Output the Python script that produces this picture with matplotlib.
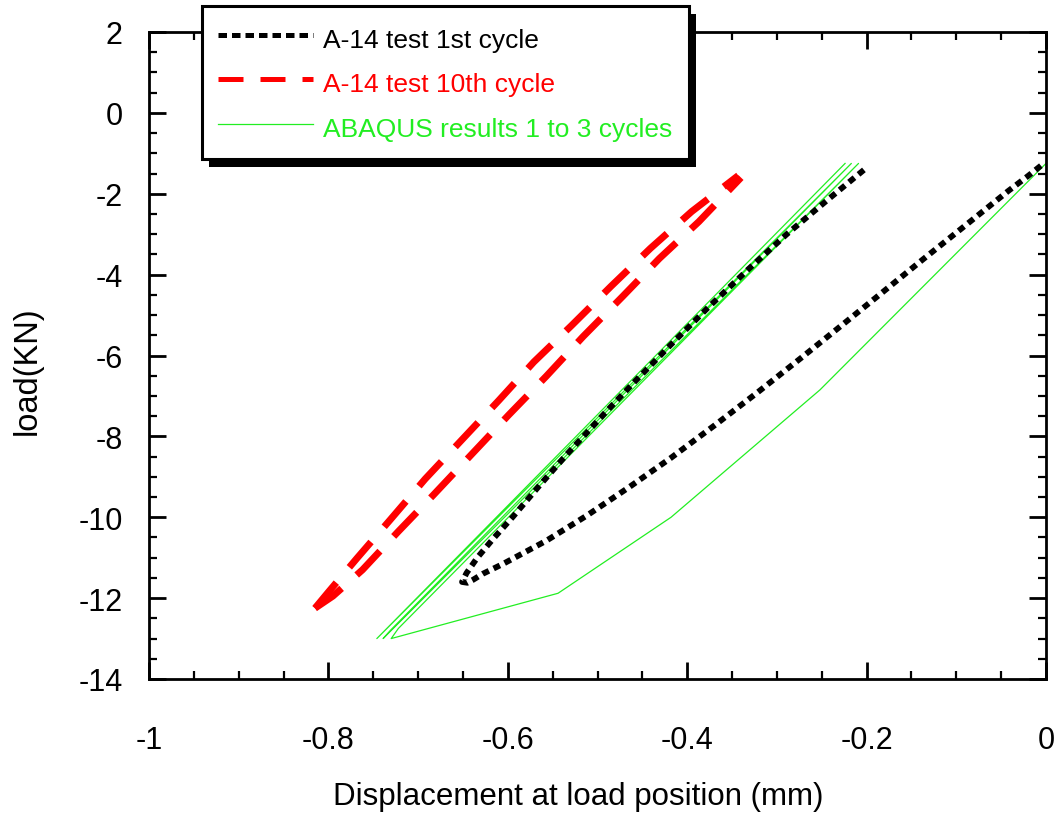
import matplotlib
matplotlib.use("Agg")
import matplotlib.pyplot as plt
from matplotlib.lines import Line2D
from matplotlib.patches import Rectangle
from matplotlib.ticker import MultipleLocator, FixedLocator

plt.rcParams['font.family'] = ['Liberation Sans', 'DejaVu Sans']
plt.rcParams['axes.unicode_minus'] = False

# ---- data ----
# A-14 test, 1st cycle (loop: loading branch then unloading branch)
test1_x = [-0.203, -0.244, -0.289, -0.332, -0.377, -0.419, -0.460, -0.492, -0.534, -0.566,
           -0.594, -0.617, -0.634, -0.646, -0.651,
           -0.645, -0.639, -0.628, -0.605, -0.557, -0.512, -0.465, -0.418, -0.369,
           -0.322, -0.273, -0.227, -0.183, -0.137, -0.088, -0.042, -0.020, -0.002]
test1_y = [-1.41, -2.16, -3.00, -3.87, -4.82, -5.75, -6.68, -7.43, -8.44, -9.25,
           -9.98, -10.55, -11.00, -11.38, -11.60,
           -11.62, -11.55, -11.40, -11.15, -10.58, -9.96, -9.26, -8.53, -7.72,
           -6.92, -6.06, -5.24, -4.45, -3.62, -2.75, -1.93, -1.56, -1.24]

# A-14 test, 10th cycle (two nearly parallel branches)
test10_load_x = [-0.343, -0.395, -0.441, -0.485, -0.529, -0.571, -0.610, -0.692, -0.731, -0.768, -0.800, -0.815]
test10_load_y = [-1.55, -2.44, -3.35, -4.29, -5.26, -6.16, -7.11, -9.05, -10.06, -11.01, -11.85, -12.25]
test10_unload_x = [-0.815, -0.795, -0.762, -0.722, -0.683, -0.599, -0.557, -0.516, -0.472, -0.431, -0.387, -0.340]
test10_unload_y = [-12.25, -11.95, -11.30, -10.35, -9.45, -7.47, -6.51, -5.53, -4.54, -3.60, -2.69, -1.60]

# ABAQUS results, cycles 1 to 3
abaqus_x = [0.0, -0.252, -0.418, -0.544, -0.730, -0.722, -0.209, -0.739, -0.731, -0.217, -0.746, -0.224]
abaqus_y = [-1.25, -6.85, -10.0, -11.88, -13.0, -12.75, -1.25, -13.0, -12.8, -1.25, -13.0, -1.25]

x_ticks = [-1, -0.8, -0.6, -0.4, -0.2, 0]
x_ticklabels = ['-1', '-0.8', '-0.6', '-0.4', '-0.2', '0']
y_ticks = [2, 0, -2, -4, -6, -8, -10, -12, -14]
y_ticklabels = ['2', '0', '-2', '-4', '-6', '-8', '-10', '-12', '-14']

labels = ['A-14 test 1st cycle', 'A-14 test 10th cycle', 'ABAQUS results 1 to 3 cycles']
colors = ['#000000', '#ff0000', '#22ee22']

# ---- figure ----
W, H = 1062, 820
fig = plt.figure(figsize=(W / 100, H / 100), dpi=100)
ax = fig.add_axes([149 / W, 1 - 680 / H, 897 / W, 647 / H])

ax.plot(abaqus_x, abaqus_y, color=colors[2], lw=0.9, zorder=2)
ax.plot(test1_x, test1_y, color=colors[0], lw=4.2, dashes=(1.2, 0.9), zorder=3)
ax.plot(test10_load_x[::-1], test10_load_y[::-1], color=colors[1], lw=5.0, dashes=(4.8, 2.9), zorder=4)
ax.plot(test10_unload_x, test10_unload_y, color=colors[1], lw=5.0, dashes=(4.8, 2.9), zorder=4)

ax.set_xlim(-1, 0)
ax.set_ylim(-14, 2)
ax.xaxis.set_major_locator(FixedLocator(x_ticks))
ax.set_xticklabels(x_ticklabels)
ax.yaxis.set_major_locator(FixedLocator(y_ticks))
ax.set_yticklabels(y_ticklabels)
ax.xaxis.set_minor_locator(MultipleLocator(0.05))
ax.yaxis.set_minor_locator(MultipleLocator(0.5))

ax.tick_params(which='both', direction='in', top=True, right=True)
ax.tick_params(which='major', length=12, width=2)
ax.tick_params(which='minor', length=6, width=1.6)
ax.tick_params(axis='x', which='major', pad=33, labelsize=22)
ax.tick_params(axis='y', which='major', pad=19, labelsize=22)
for s in ax.spines.values():
    s.set_linewidth(2)

ax.set_xlabel('Displacement at load position (mm)', fontsize=22.5)
ax.xaxis.set_label_coords((578 - 149) / 897, (680 - 797) / 647)
ax.xaxis.label.set_va('center')
ax.set_ylabel('load(KN)', fontsize=23.5)
ax.yaxis.set_label_coords((27 - 149) / 897, (680 - 371) / 647)
ax.yaxis.label.set_va('center')

# ---- legend ----
handles = [
    Line2D([], [], color=colors[0], lw=3.6, dashes=(1.7, 1.0)),
    Line2D([], [], color=colors[1], lw=3.6, dashes=(5.0, 3.4)),
    Line2D([], [], color=colors[2], lw=0.9),
]
leg = fig.legend(handles, labels, loc='upper left',
                 bbox_to_anchor=(202 / W, 1 - 7 / H), bbox_transform=fig.transFigure,
                 borderaxespad=0, fontsize=19, frameon=True, fancybox=False,
                 edgecolor='black', framealpha=1, handlelength=3.6, handletextpad=0.38,
                 borderpad=0.62, labelspacing=0.5, handleheight=1.45)
leg.get_frame().set_linewidth(2.2)
leg.set_zorder(6)
for t, c in zip(leg.get_texts(), colors):
    t.set_color(c)

fig.canvas.draw()
bb = leg.get_window_extent()
shadow = Rectangle((bb.x0 + 7, bb.y0 - 8), bb.width, bb.height,
                   transform=None, facecolor='black', edgecolor='none', zorder=5)
fig.add_artist(shadow)

fig.savefig('out.png', dpi=100)
